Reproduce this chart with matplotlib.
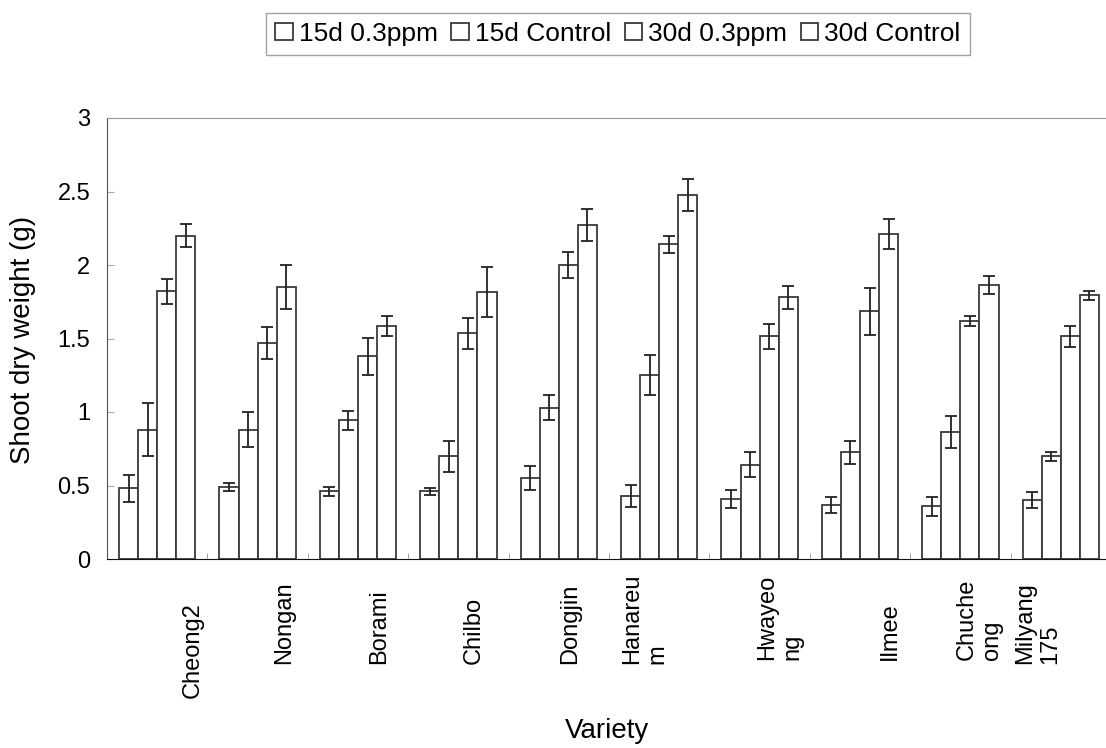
import matplotlib
matplotlib.use('Agg')
import matplotlib.pyplot as plt
import numpy as np
from matplotlib.transforms import blended_transform_factory

plt.rcParams['font.family'] = ['Liberation Sans', 'DejaVu Sans']

varieties = ['Cheong2', 'Nongan', 'Borami', 'Chilbo', 'Dongjin', 'Hanareu\nm',
             'Hwayeo\nng', 'Ilmee', 'Chuche\nong', 'Milyang\n175']
series = ['15d 0.3ppm', '15d Control', '30d 0.3ppm', '30d Control']

d15_ppm = [0.48, 0.49, 0.46, 0.46, 0.55, 0.43, 0.41, 0.37, 0.36, 0.40]
d15_ppm_err = [0.09, 0.03, 0.03, 0.025, 0.08, 0.075, 0.06, 0.055, 0.065, 0.055]
d15_ctl = [0.88, 0.88, 0.945, 0.70, 1.03, 1.25, 0.64, 0.725, 0.865, 0.70]
d15_ctl_err = [0.18, 0.12, 0.065, 0.105, 0.085, 0.135, 0.085, 0.08, 0.11, 0.03]
d30_ppm = [1.82, 1.47, 1.38, 1.535, 2.0, 2.14, 1.515, 1.685, 1.62, 1.515]
d30_ppm_err = [0.085, 0.11, 0.125, 0.105, 0.09, 0.06, 0.085, 0.16, 0.035, 0.07]
d30_ctl = [2.2, 1.85, 1.585, 1.815, 2.27, 2.475, 1.78, 2.21, 1.865, 1.795]
d30_ctl_err = [0.08, 0.15, 0.07, 0.17, 0.11, 0.11, 0.08, 0.10, 0.06, 0.03]

yticks = [0, 0.5, 1, 1.5, 2, 2.5, 3]
ytick_labels = ['0', '0.5', '1', '1.5', '2', '2.5', '3']

# label placement in pixels (the original labels sit off-centre)
label_dx = [36, 27, 21, 15, 11, -14, 20, 30, 19, -23]
label_bottom = [698, 664, 664, 664, 664, 664, 660, 660, 660, 664]

W, H = 1106, 748
fig = plt.figure(figsize=(W / 100, H / 100), dpi=100)
ax = fig.add_axes([107 / W, 189 / H, 1004 / W, 441 / H])

x = np.arange(len(varieties))
w = 0.19
vals = [d15_ppm, d15_ctl, d30_ppm, d30_ctl]
errs = [d15_ppm_err, d15_ctl_err, d30_ppm_err, d30_ctl_err]
handles = []
for k in range(4):
  xs = x + (k - 1.5) * w
  b = ax.bar(xs, vals[k], w, color='white', edgecolor='#3a3a3a', linewidth=1.3,
             label=series[k], zorder=2)
  handles.append(b)
  ax.errorbar(xs, vals[k], yerr=errs[k], fmt='none', ecolor='#222222',
              elinewidth=1.3, capsize=4.5, capthick=1.3, zorder=3)

ax.set_xlim(-0.5, len(varieties) - 0.5)
ax.set_ylim(0, 3)
ax.set_yticks(yticks)
ax.set_yticklabels(ytick_labels)
ax.tick_params(axis='y', direction='in', length=5, color='#aaaaaa',
               labelsize=17, pad=12)
ax.set_xticks([])
ax.set_xticks(np.arange(len(varieties)) + 0.5, minor=True)
ax.tick_params(axis='x', which='minor', direction='in', length=4,
               color='#999999', labelbottom=False)
ax.spines['top'].set_color('#999999')
ax.spines['left'].set_color('#555555')
ax.spines['bottom'].set_color('#111111')
ax.spines['right'].set_visible(False)

trans = blended_transform_factory(ax.transData, fig.transFigure)
for i, lab in enumerate(varieties):
  ax.text(i + label_dx[i] / 100.4, 1 - label_bottom[i] / H, lab, transform=trans,
          rotation=90, ha='center', va='bottom', multialignment='left',
          fontsize=17, clip_on=False)

fig.text(23 / W, 1 - 340 / H, 'Shoot dry weight (g)', rotation=90,
         ha='center', va='center', fontsize=20)
fig.text(607 / W, 1 - 731 / H, 'Variety', ha='center', va='center', fontsize=20)

fig.legend(handles, series, loc='center', bbox_to_anchor=(618 / W, 1 - 34 / H),
           ncol=4, frameon=True, fancybox=False, edgecolor='#888888',
           fontsize=19, handlelength=0.65, handleheight=0.6, handletextpad=0.25,
           columnspacing=0.5, borderpad=0.35)

plt.savefig('out.png', dpi=100)
plt.close()
